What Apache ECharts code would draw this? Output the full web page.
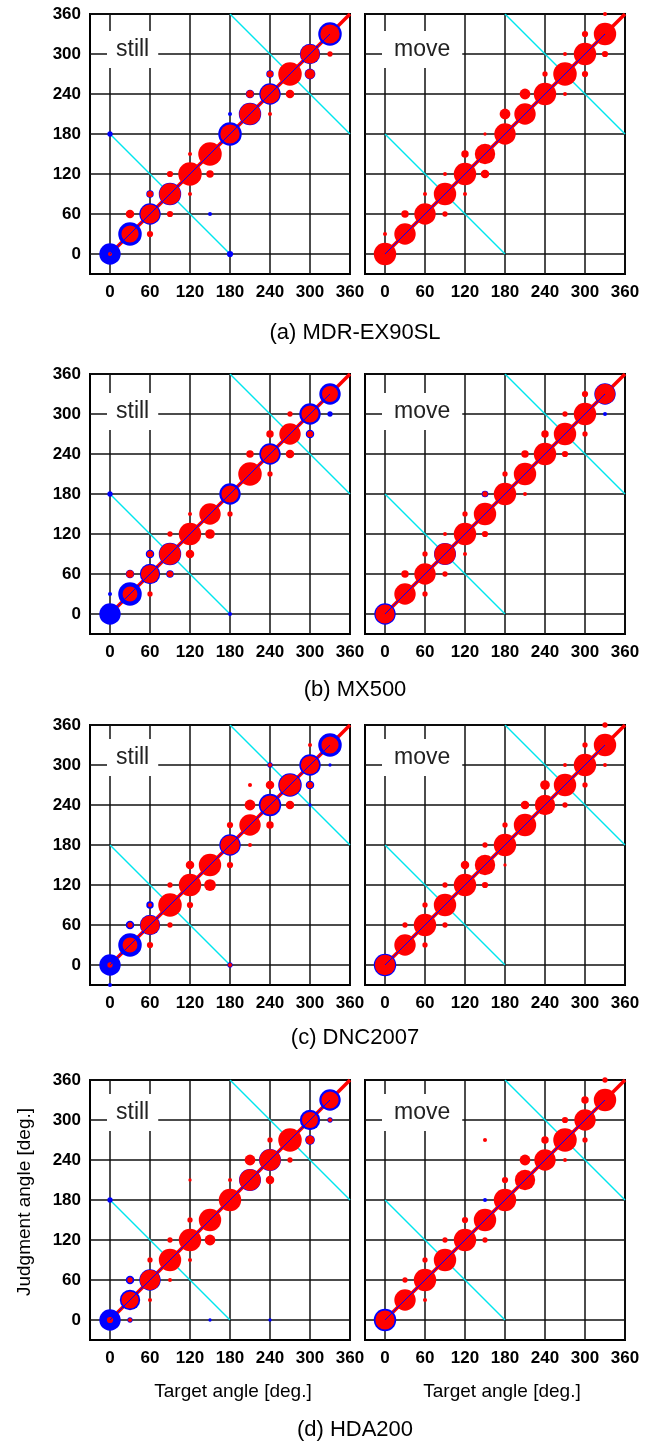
<!DOCTYPE html>
<html><head><meta charset="utf-8">
<script src="https://cdn.jsdelivr.net/npm/echarts@6/dist/echarts.min.js"></script>
<style>html,body{margin:0;padding:0;background:#fff}#c{width:660px;height:1447px}</style>
</head><body><div id="c"></div>
<script>
// ---------- text ----------
const captions = ['(a) MDR-EX90SL', '(b) MX500', '(c) DNC2007', '(d) HDA200'];
const conditions = ['still', 'move'];
const xName = 'Target angle [deg.]';
const yName = 'Judgment angle [deg.]';
const tickValues = [0, 60, 120, 180, 240, 300, 360];

// ---------- reference lines (deg) ----------
const identityLine = [[0, 0], [360, 360]];
const meanLine = [[0, 0], [330, 330]];
const confusionLow = [[0, 180], [180, 0]];
const confusionHigh = [[180, 360], [360, 180]];

// ---------- data: [target, judgment, response %] ----------
const aStillRed = [[0,0,3],[30,30,53],[30,60,13],[60,30,7],[60,60,67],[60,90,7],[90,60,7],[90,90,83],[90,120,7],[120,90,3],[120,120,100],[120,150,3],[150,120,10],[150,150,100],[180,180,67],[210,210,83],[210,240,10],[240,210,3],[240,240,67],[240,270,7],[270,240,13],[270,270,100],[300,270,17],[300,300,67],[330,300,5],[330,330,67]];
const aStillBlue = [[0,0,83],[0,180,5],[30,30,100],[60,60,83],[60,90,10],[90,90,91],[150,60,3],[180,0,7],[180,180,100],[180,210,3],[210,210,91],[210,240,13],[240,240,83],[240,270,10],[300,270,21],[300,300,75],[330,330,100]];
const aMoveRed = [[0,0,91],[0,30,3],[30,30,83],[30,60,10],[60,60,83],[60,90,3],[90,60,5],[90,90,91],[90,120,3],[120,90,3],[120,120,91],[120,150,10],[150,120,13],[150,150,75],[150,180,2],[180,180,83],[180,210,21],[210,210,83],[210,240,21],[240,240,91],[240,270,5],[270,240,3],[270,270,100],[270,300,3],[300,270,7],[300,300,91],[300,330,7],[330,300,7],[330,330,91],[330,360,3]];
const aMoveBlue = [];

const bStillRed = [[30,30,40],[30,60,10],[60,30,5],[60,60,60],[60,90,7],[90,60,7],[90,90,83],[90,120,5],[120,90,13],[120,120,91],[120,150,3],[150,120,17],[150,150,83],[180,150,5],[180,180,53],[210,210,100],[210,240,10],[240,210,5],[240,240,60],[240,270,10],[270,240,13],[270,270,83],[270,300,5],[300,270,7],[300,300,53],[330,330,46]];
const bStillBlue = [[0,0,83],[0,30,3],[0,180,5],[30,30,100],[30,60,13],[60,60,75],[60,90,13],[90,60,10],[90,90,91],[180,0,3],[180,180,83],[240,240,83],[300,270,13],[300,300,83],[330,300,5],[330,330,83]];
const bMoveRed = [[0,0,67],[30,30,83],[30,60,10],[60,30,5],[60,60,83],[60,90,5],[90,60,5],[90,90,83],[90,120,3],[120,90,3],[120,120,91],[120,150,5],[150,120,7],[150,150,91],[150,180,5],[180,180,91],[180,210,5],[210,180,3],[210,210,91],[210,240,10],[240,240,91],[240,270,10],[270,240,7],[270,270,91],[270,300,5],[300,270,5],[300,300,91],[300,330,7],[330,330,75]];
const bMoveBlue = [[0,0,83],[90,90,87],[150,180,8],[330,300,3],[330,330,83]];

const cStillRed = [[0,0,5],[30,30,40],[30,60,5],[60,30,7],[60,60,67],[60,90,3],[90,60,5],[90,90,100],[90,120,5],[120,90,7],[120,120,91],[120,150,13],[150,120,25],[150,150,91],[180,0,3],[180,150,7],[180,180,67],[180,210,7],[210,180,3],[210,210,83],[210,240,21],[210,270,3],[240,210,10],[240,240,67],[240,270,13],[240,300,3],[270,240,13],[270,270,83],[300,270,7],[300,300,60],[300,330,3],[330,330,53]];
const cStillBlue = [[0,-30,3],[0,0,83],[30,30,100],[30,60,13],[60,60,75],[60,90,10],[180,0,5],[180,180,83],[240,240,91],[240,300,5],[270,270,100],[300,240,2],[300,270,13],[300,300,83],[330,300,2],[330,330,100]];
const cMoveRed = [[0,0,75],[30,30,83],[30,60,5],[60,30,5],[60,60,91],[60,90,5],[90,60,5],[90,90,91],[90,120,5],[120,120,91],[120,150,13],[150,120,7],[150,150,75],[150,180,5],[180,150,2],[180,180,91],[180,210,5],[210,210,91],[210,240,13],[240,240,75],[240,270,17],[270,240,5],[270,270,91],[270,300,3],[300,270,5],[300,300,91],[300,330,5],[330,300,3],[330,330,91],[330,360,5]];
const cMoveBlue = [[0,0,91]];

const dStillRed = [[0,0,7],[30,0,3],[30,30,53],[30,60,5],[60,30,3],[60,60,75],[60,90,5],[90,60,3],[90,90,91],[90,120,5],[120,90,3],[120,120,91],[120,150,5],[120,210,2],[150,120,21],[150,150,91],[180,180,91],[180,210,3],[210,210,83],[210,240,21],[240,210,13],[240,240,83],[240,270,5],[270,240,5],[270,270,100],[300,270,13],[300,300,46],[330,300,3],[330,330,53]];
const dStillBlue = [[0,0,83],[0,180,5],[30,0,5],[30,30,75],[30,60,13],[60,60,83],[150,0,2],[210,210,87],[240,0,2],[240,240,87],[300,270,17],[300,300,75],[330,300,5],[330,330,83]];
const dMoveRed = [[0,0,67],[30,30,83],[30,60,5],[60,30,3],[60,60,91],[60,90,5],[90,90,91],[90,120,5],[120,120,91],[120,150,7],[150,120,5],[150,150,91],[150,270,3],[180,180,91],[180,210,7],[210,210,75],[210,240,21],[240,240,83],[240,270,10],[270,240,3],[270,270,100],[270,300,7],[300,270,5],[300,300,83],[300,330,10],[330,330,91],[330,360,5]];
const dMoveBlue = [[0,0,91],[150,180,3]];

const panels = [
  [aStillRed, aStillBlue], [aMoveRed, aMoveBlue],
  [bStillRed, bStillBlue], [bMoveRed, bMoveBlue],
  [cStillRed, cStillBlue], [cMoveRed, cMoveBlue],
  [dStillRed, dStillBlue], [dMoveRed, dMoveBlue]
];

// ---------- layout ----------
const FONT = "'Liberation Sans', Arial, Helvetica, sans-serif";
const rowTops = [14, 374, 725, 1080];
const colLefts = [90, 365];
const SIDE = 260;
const titleOffsets = [17, 19, 14, 14];
const captionY = [333, 690, 1038, 1430];
const RED = '#ff0000', BLUE = '#0000ff', CYAN = '#00e6ee';

const sizeOf = d => 2.35 * Math.sqrt(d[2]);
const labelFmt = v => (v >= 0 && tickValues.indexOf(v) >= 0) ? String(v) : '';

const grids = [], xAxes = [], yAxes = [], series = [], titles = [], graphics = [];
panels.forEach((p, i) => {
  const row = Math.floor(i / 2), col = i % 2;
  grids.push({ left: colLefts[col], top: rowTops[row], width: SIDE, height: SIDE,
    show: true, borderColor: '#000', borderWidth: 2, backgroundColor: '#fff' });
  const common = {
    type: 'value', gridIndex: i, min: -30, max: 360, interval: 30,
    axisLine: { show: false }, axisTick: { show: false },
    splitLine: { show: true, lineStyle: { color: ['rgba(0,0,0,0)', '#111'], width: 1.5 } }
  };
  xAxes.push(Object.assign({}, common, {
    axisLabel: { show: true, formatter: labelFmt, margin: 10, fontSize: 17, fontWeight: 'bold', color: '#000', fontFamily: FONT }
  }));
  yAxes.push(Object.assign({}, common, {
    axisLabel: { show: col === 0, formatter: labelFmt, margin: 9, fontSize: 17, fontWeight: 'bold', color: '#000', fontFamily: FONT }
  }));
  const lineBase = { type: 'line', xAxisIndex: i, yAxisIndex: i, symbol: 'none', silent: true, animation: false };
  series.push(Object.assign({}, lineBase, { data: confusionLow, z: 2, lineStyle: { color: CYAN, width: 1.5 } }));
  series.push(Object.assign({}, lineBase, { data: confusionHigh, z: 2, lineStyle: { color: CYAN, width: 1.5 } }));
  series.push(Object.assign({}, lineBase, { data: identityLine, z: 2, lineStyle: { color: RED, width: 3.5 } }));
  series.push({ type: 'scatter', xAxisIndex: i, yAxisIndex: i, data: p[1], symbolSize: sizeOf, z: 3,
    itemStyle: { color: BLUE, opacity: 1 }, silent: true, animation: false });
  series.push({ type: 'scatter', xAxisIndex: i, yAxisIndex: i, data: p[0], symbolSize: sizeOf, z: 4,
    itemStyle: { color: RED, opacity: 1 }, silent: true, animation: false });
  series.push(Object.assign({}, lineBase, { data: meanLine, z: 5, lineStyle: { color: BLUE, width: 1 } }));

  titles.push({
    text: conditions[col], left: col === 0 ? 107 : 382, top: rowTops[row] + titleOffsets[row],
    backgroundColor: '#fff', padding: col === 0 ? [7, 9] : [7, 12], z: 10,
    textStyle: { fontSize: 23, fontWeight: 'normal', color: '#222', fontFamily: FONT }
  });
});

captions.forEach((c, r) => {
  graphics.push({ type: 'text', x: 355, y: captionY[r], z: 10,
    style: { text: c, font: '22px ' + FONT, fill: '#000', textAlign: 'center', textVerticalAlign: 'middle' } });
});
graphics.push({ type: 'text', x: 233, y: 1392, z: 10,
  style: { text: xName, font: '19px ' + FONT, fill: '#000', textAlign: 'center', textVerticalAlign: 'middle' } });
graphics.push({ type: 'text', x: 502, y: 1392, z: 10,
  style: { text: xName, font: '19px ' + FONT, fill: '#000', textAlign: 'center', textVerticalAlign: 'middle' } });
graphics.push({ type: 'text', x: 25, y: 1202, rotation: Math.PI / 2, z: 10,
  style: { text: yName, font: '19px ' + FONT, fill: '#000', textAlign: 'center', textVerticalAlign: 'middle' } });

const chart = echarts.init(document.getElementById('c'), null, { renderer: 'canvas' });
chart.setOption({
  animation: false,
  backgroundColor: '#fff',
  title: titles,
  grid: grids,
  xAxis: xAxes,
  yAxis: yAxes,
  series: series,
  graphic: graphics
});
</script>
</body></html>
